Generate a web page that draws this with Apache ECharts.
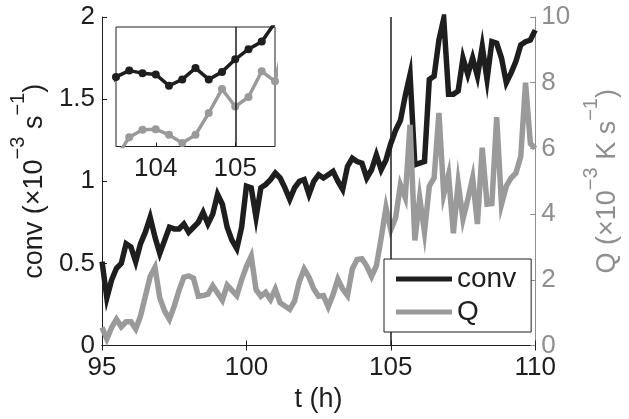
<!DOCTYPE html>
<html>
<head>
<meta charset="utf-8">
<script src="https://cdn.jsdelivr.net/npm/echarts@6/dist/echarts.min.js"></script>
<style>
  html, body { margin: 0; padding: 0; background: #fff; }
  #chart { width: 629px; height: 419px; }
</style>
</head>
<body>
<div id="chart"></div>
<script>
// Samples every 10 minutes from t = 95 h to t = 110 h
const startHour = 95;
const samplesPerHour = 6;

// Convergence (×10^-3 s^-1)
const convValues = [
  0.51, 0.29, 0.40, 0.47, 0.50, 0.62, 0.60, 0.51, 0.62, 0.69,
  0.78, 0.66, 0.56, 0.64, 0.72, 0.71, 0.71, 0.74, 0.69, 0.72,
  0.75, 0.81, 0.74, 0.80, 0.92, 0.86, 0.72, 0.64, 0.59, 0.72,
  0.97, 0.96, 0.78, 0.96, 0.98, 1.01, 1.05, 1.02, 0.96, 0.89,
  0.96, 1.00, 1.01, 0.92, 1.00, 1.04, 1.02, 1.04, 1.06, 1.00,
  0.95, 1.09, 1.14, 1.12, 1.11, 1.02, 1.07, 1.16, 1.07, 1.13,
  1.23, 1.31, 1.37, 1.52, 1.65, 1.10, 1.11, 1.12, 1.62, 1.64,
  1.86, 1.99, 1.53, 1.53, 1.55, 1.75, 1.65, 1.75, 1.64, 1.82,
  1.62, 1.85, 1.84, 1.75, 1.60, 1.66, 1.73, 1.83, 1.85, 1.86,
  1.92
];

// Heating Q (×10^-3 K s^-1)
const qValues = [
  0.55, 0.20, 0.55, 0.80, 0.57, 0.72, 0.72, 0.50, 0.90, 1.50,
  2.10, 2.38, 1.45, 1.05, 0.80, 1.20, 1.68, 2.08, 2.12, 2.05,
  1.50, 1.52, 1.56, 1.82, 1.60, 1.38, 1.84, 1.68, 1.52, 2.00,
  2.40, 2.72, 1.70, 1.50, 1.62, 1.40, 1.72, 1.30, 1.20, 1.10,
  1.35, 1.95, 2.33, 2.08, 1.72, 1.50, 1.52, 1.18, 1.55, 2.02,
  1.72, 1.52, 2.33, 2.62, 2.64, 2.42, 2.10, 2.42, 3.27, 4.20,
  3.52, 3.89, 4.89, 4.50, 6.72, 3.20, 4.50, 3.45, 4.85, 5.10,
  7.08, 4.60, 5.20, 3.42, 4.95, 3.85, 4.45, 5.10, 3.70, 6.02,
  4.30, 4.32, 6.95, 4.30, 4.85, 5.10, 5.25, 5.75, 8.00, 6.15,
  6.00
];

// Axis ticks
const timeTicks = [95, 100, 105, 110];
const convTicks = [0, 0.5, 1, 1.5, 2];
const qTicks = [0, 2, 4, 6, 8, 10];
const insetTimeTicks = [104, 105];
const markerHour = 105;

// Zoomed window around the marker
const insetTimeRange = [103.5, 105.5];
const insetConvRange = [0.538, 1.486];
const insetQRange = [1.968, 6.61];

const times = convValues.map((_, i) => startHour + i / samplesPerHour);
const convData = times.map((t, i) => [t, convValues[i]]);
const qData = times.map((t, i) => [t, qValues[i]]);

const FONT = '"Liberation Sans", Arial, Helvetica, sans-serif';
const INK = '#1e1e1e';
const GREY = '#9a9a9a';
const GREY_AXIS = '#8e8e8e';

// Base text plus raised exponents
function labelRich(color) {
  return {
    b: { fontSize: 27, lineHeight: 40, verticalAlign: 'bottom', color: color, fontFamily: FONT },
    s: { fontSize: 20, lineHeight: 16, verticalAlign: 'top', color: color, fontFamily: FONT }
  };
}

const chart = echarts.init(document.getElementById('chart'), null, { renderer: 'canvas' });

const option = {
  animation: false,
  backgroundColor: '#fff',
  textStyle: { fontFamily: FONT },
  grid: [
    { left: 100, top: 17, width: 437, height: 328.5 },
    { left: 116, top: 27, width: 159, height: 119.5, show: true,
      backgroundColor: '#fff', borderColor: INK, borderWidth: 1 }
  ],
  legend: {
    orient: 'vertical',
    left: 384, top: 259,
    padding: [6, 15, 6, 12],
    itemGap: 5,
    itemWidth: 56, itemHeight: 5,
    icon: 'rect',
    backgroundColor: '#fff',
    borderColor: INK, borderWidth: 1,
    selectedMode: false,
    textStyle: { fontSize: 28, color: INK, fontFamily: FONT },
    data: ['conv', 'Q'],
    z: 20
  },
  xAxis: [
    {
      type: 'value', gridIndex: 0,
      min: timeTicks[0], max: timeTicks[timeTicks.length - 1], interval: 5,
      axisLine: { show: true, lineStyle: { color: INK, width: 1 } },
      axisTick: { show: true, inside: true, length: 5, lineStyle: { color: INK } },
      axisLabel: { fontSize: 26, color: INK, margin: 9, fontFamily: FONT },
      splitLine: { show: false },
      name: 't (h)', nameLocation: 'middle', nameGap: 41,
      nameTextStyle: { fontSize: 27, color: INK, fontFamily: FONT }
    },
    {
      type: 'value', gridIndex: 0, position: 'top',
      min: timeTicks[0], max: timeTicks[timeTicks.length - 1], interval: 5,
      axisLine: { show: true, lineStyle: { color: INK, width: 1 } },
      axisTick: { show: true, inside: true, length: 5, lineStyle: { color: INK } },
      axisLabel: { show: false },
      splitLine: { show: false }
    },
    {
      type: 'value', gridIndex: 1,
      min: insetTimeRange[0], max: insetTimeRange[1],
      axisLine: { show: false },
      axisTick: { show: true, inside: true, length: 4, customValues: insetTimeTicks, lineStyle: { color: INK } },
      axisLabel: { customValues: insetTimeTicks, fontSize: 26, color: INK, margin: 9, fontFamily: FONT },
      splitLine: { show: false }
    }
  ],
  yAxis: [
    {
      type: 'value', gridIndex: 0, position: 'left',
      min: convTicks[0], max: convTicks[convTicks.length - 1], interval: 0.5,
      axisLine: { show: true, lineStyle: { color: INK, width: 1 } },
      axisTick: { show: true, inside: true, length: 5, lineStyle: { color: INK } },
      axisLabel: { fontSize: 26, color: INK, margin: 7, fontFamily: FONT },
      splitLine: { show: false },
      name: '{b|conv (×10}{s|−3}{b| s}{s|−1}{b|)}',
      nameLocation: 'middle', nameRotate: 90, nameGap: 39,
      nameTextStyle: { rich: labelRich(INK) }
    },
    {
      type: 'value', gridIndex: 0, position: 'right',
      min: qTicks[0], max: qTicks[qTicks.length - 1], interval: 2,
      axisLine: { show: true, lineStyle: { color: GREY_AXIS, width: 1 } },
      axisTick: { show: true, inside: true, length: 5, lineStyle: { color: GREY_AXIS } },
      axisLabel: { fontSize: 26, color: GREY_AXIS, margin: 6, fontFamily: FONT },
      splitLine: { show: false },
      name: '{b|Q (×10}{s|−3}{b| K s}{s|−1}{b|)}',
      nameLocation: 'middle', nameRotate: 90, nameGap: 45,
      nameTextStyle: { rich: labelRich(GREY_AXIS) }
    },
    { type: 'value', gridIndex: 1, min: insetConvRange[0], max: insetConvRange[1], show: false, splitLine: { show: false } },
    { type: 'value', gridIndex: 1, min: insetQRange[0], max: insetQRange[1], show: false, splitLine: { show: false } }
  ],
  series: [
    {
      name: 'conv', type: 'line', xAxisIndex: 0, yAxisIndex: 0,
      data: convData, showSymbol: false, z: 2,
      lineStyle: { color: INK, width: 5.5, join: 'miter' },
      itemStyle: { color: INK }
    },
    {
      name: 'Q', type: 'line', xAxisIndex: 0, yAxisIndex: 1,
      data: qData, showSymbol: false, z: 3,
      lineStyle: { color: GREY, width: 5.5, join: 'miter' },
      itemStyle: { color: GREY },
      markLine: {
        silent: true, symbol: ['none', 'none'], animation: false,
        label: { show: false },
        lineStyle: { color: INK, width: 1.5, type: 'solid' },
        emphasis: { disabled: true },
        data: [{ xAxis: markerHour }]
      }
    },
    {
      name: 'conv', type: 'line', xAxisIndex: 2, yAxisIndex: 2,
      data: convData, symbol: 'circle', symbolSize: 8, showAllSymbol: true, clip: true, z: 4,
      lineStyle: { color: INK, width: 3.5 },
      itemStyle: { color: INK }
    },
    {
      name: 'Q', type: 'line', xAxisIndex: 2, yAxisIndex: 3,
      data: qData, symbol: 'circle', symbolSize: 8, showAllSymbol: true, clip: true, z: 4,
      lineStyle: { color: GREY, width: 3.5 },
      itemStyle: { color: GREY },
      markLine: {
        silent: true, symbol: ['none', 'none'], animation: false,
        label: { show: false },
        lineStyle: { color: INK, width: 1.5, type: 'solid' },
        emphasis: { disabled: true },
        data: [{ xAxis: markerHour }]
      }
    }
  ]
};

chart.setOption(option);
</script>
</body>
</html>
